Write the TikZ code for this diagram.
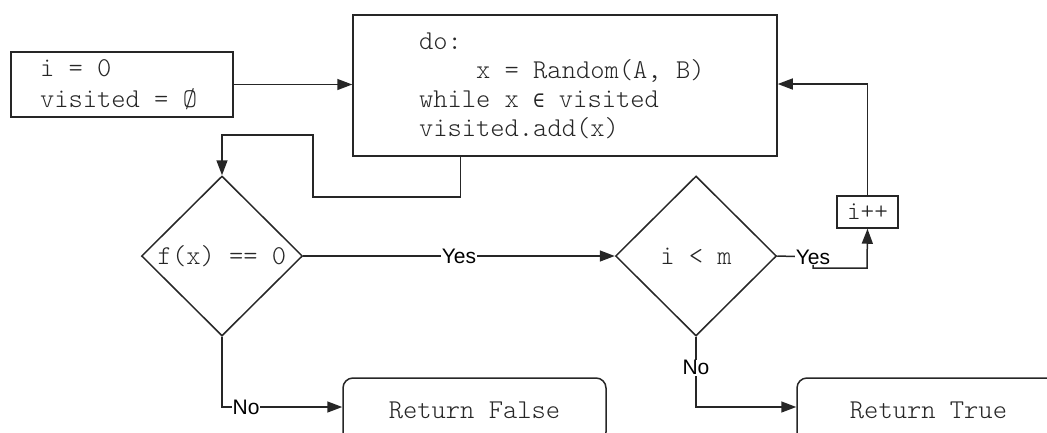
\documentclass[tikz,border=0pt]{standalone}
\usepackage{fontspec}
\setmainfont{Liberation Sans}
\newfontfamily\codefont{lmmonolt10-regular.otf}
\newfontfamily\symfont{DejaVu Sans Mono}
\usetikzlibrary{shapes.geometric,arrows.meta}

% spaces in code are exactly one character cell wide
\newcommand\cellspaces{\spaceskip=\fontcharwd\font`\x\relax\xspaceskip=\spaceskip}

\tikzset{
  line/.style={draw=black!85, line width=1.5pt},
  arr/.style={line, -{Triangle[length=15pt,width=11pt]}},
  code/.style={font=\codefont\fontsize{27.2}{29}\selectfont\cellspaces, text=black!85},
  box/.style={line, rectangle, inner sep=0pt, code},
  decision/.style={line, diamond, inner sep=0pt, minimum width=161pt, minimum height=160pt, code},
  result/.style={box, rounded corners=10pt, minimum width=263pt, minimum height=64pt},
  lbl/.style={fill=white, inner sep=0.6pt, font=\fontsize{21}{24}\selectfont, text=black}
}

\begin{document}
\begin{tikzpicture}[x=1pt,y=-1pt]
  \useasboundingbox (0,0) rectangle (1047,432);
  \clip (0,0) rectangle (1047,432);

  % process boxes
  \node[box, minimum width=222pt, minimum height=65pt, text width=164pt, align=left,
        font=\codefont\fontsize{27.2}{31}\selectfont] (init) at (122,84.5)
        {\cellspaces i = 0\\visited = Ø};
  \node[box, minimum width=424pt, minimum height=141pt, text width=292pt, align=left] (main) at (565,85.5)
        {\cellspaces do:\\\phantom{xxxx}x = Random(A, B)\\while x {\symfont\fontsize{19}{29}\selectfont ∈} visited\\visited.add(x)};
  \node[box, minimum width=61pt, minimum height=32pt, font=\codefont\fontsize{26}{28}\selectfont] (inc) at (867.5,212) {i++};

  % decisions
  \node[decision] (d1) at (222,256) {f(x) == 0};
  \node[decision] (d2) at (696,256) {i < m};

  % results
  \node[result] (rf) at (474.5,410) {Return False};
  \node[result] (rt) at (928.5,410) {Return True};

  % connectors
  \draw[arr] (init) -- (init -| main.west);
  \draw[arr] ([xshift=108pt]main.south west) -- ++(0,40) -| (313,135) -| (d1.north);
  \draw[arr] (d1) -- node[lbl] (yes1) {Yes} (d2);

  \coordinate (j1) at (813,257);
  \coordinate (j2) at (867,268);
  \draw[arr] (d2.east) -- (j1) |- (j2) -- (inc.south);
  \node[lbl] (yes2) at (j1) {Yes};

  \draw[arr] (inc.north) |- ([yshift=1.5pt]main.east);
  \draw[arr] (d1.south) |- node[lbl, pos=0.6] (no1) {No} ([yshift=3pt]rf.west);
  \draw[arr] (d2.south) |- node[lbl, pos=0.22] (no2) {No} ([yshift=3pt]rt.west);
\end{tikzpicture}
\end{document}
